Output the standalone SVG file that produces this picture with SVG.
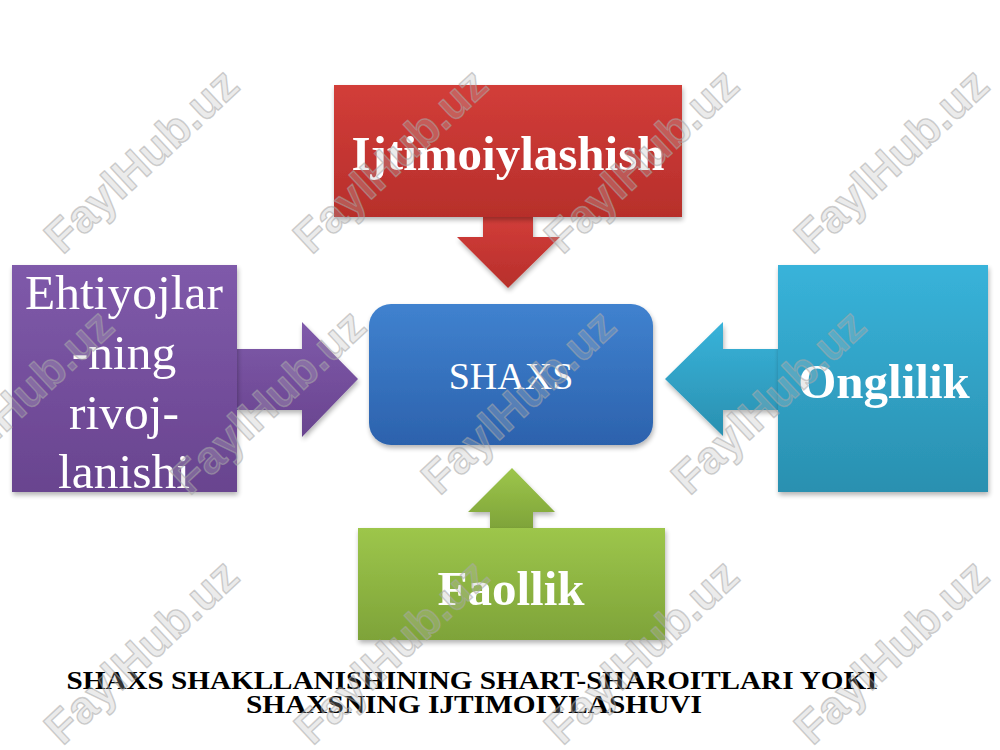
<svg xmlns="http://www.w3.org/2000/svg" width="1000" height="750" viewBox="0 0 1000 750">
<style>
.lbl{font-family:"Liberation Serif","Times New Roman",serif;fill:#ffffff;text-anchor:middle}
.b{font-weight:bold;font-size:49px}
.title{font-family:"Liberation Serif","Times New Roman",serif;font-weight:bold;font-size:26px;fill:#000;text-anchor:middle}
.wm{font-family:"Liberation Sans",Arial,sans-serif;font-weight:bold;font-size:46px;fill:#b8b8b8;fill-opacity:0.3;stroke:#a8a8a8;stroke-opacity:0.55;stroke-width:1.4;stroke-linejoin:round;text-anchor:middle}
.sh{filter:url(#shadow)}
</style>
<defs>
<filter id="shadow" x="-10%" y="-10%" width="125%" height="130%">
<feGaussianBlur in="SourceAlpha" stdDeviation="2.5"/>
<feOffset dx="1" dy="3" result="o"/>
<feComponentTransfer><feFuncA type="linear" slope="0.3"/></feComponentTransfer>
<feMerge><feMergeNode/><feMergeNode in="SourceGraphic"/></feMerge>
</filter>
<linearGradient id="gRed" x1="0" y1="0" x2="0" y2="1"><stop offset="0" stop-color="#d23d39"/><stop offset="1" stop-color="#b72f2b"/></linearGradient>
<linearGradient id="gPur" x1="0" y1="0" x2="0" y2="1"><stop offset="0" stop-color="#7f5aaa"/><stop offset="1" stop-color="#69448f"/></linearGradient>
<linearGradient id="gTeal" x1="0" y1="0" x2="0" y2="1"><stop offset="0" stop-color="#38b3da"/><stop offset="1" stop-color="#2a90b0"/></linearGradient>
<linearGradient id="gGrn" x1="0" y1="0" x2="0" y2="1"><stop offset="0" stop-color="#9dc64b"/><stop offset="1" stop-color="#7ea339"/></linearGradient>
<linearGradient id="gBlue" x1="0" y1="0" x2="0" y2="1"><stop offset="0" stop-color="#4082cf"/><stop offset="1" stop-color="#2c62ad"/></linearGradient>
</defs>
<rect width="1000" height="750" fill="#ffffff"/>

<g id="connectors">
<polygon id="arrow-top" class="sh" points="483,216 533,216 533,237 560,237 508,288 457,237 483,237" fill="url(#gRed)"/>
<polygon id="arrow-left" class="sh" points="236,349 302,349 302,322 358,379 302,437 302,410 236,410" fill="url(#gPur)"/>
<polygon id="arrow-right" class="sh" points="779,349 723,349 723,322 665,379 723,436 723,410 779,410" fill="url(#gTeal)"/>
<polygon id="arrow-bottom" class="sh" points="490,529 490,512 468,512 512,468 555,512 533,512 533,529" fill="url(#gGrn)"/>
</g>

<g id="node-ijtimoiylashish">
<rect class="sh" x="334" y="85" width="348" height="132" fill="url(#gRed)"/>
<text class="lbl b" x="508" y="170">Ijtimoiylashish</text>
</g>
<g id="node-ehtiyojlar">
<rect class="sh" x="12" y="265" width="225" height="227" fill="url(#gPur)"/>
<text class="lbl" font-size="49.5" x="124" y="309">Ehtiyojlar</text>
<text class="lbl" font-size="49.5" x="124" y="369">-ning</text>
<text class="lbl" font-size="49.5" x="124" y="429">rivoj-</text>
<text class="lbl" font-size="49.5" x="124" y="488">lanishi</text>
</g>
<g id="node-shaxs">
<rect class="sh" x="369" y="304" width="284" height="141" rx="22" fill="url(#gBlue)"/>
<text class="lbl" font-size="38" x="511" y="389">SHAXS</text>
</g>
<g id="node-onglilik">
<rect class="sh" x="778" y="265" width="210" height="227" fill="url(#gTeal)"/>
<text class="lbl b" x="884" y="398">Onglilik</text>
</g>
<g id="node-faollik">
<rect class="sh" x="358" y="528" width="307" height="112" fill="url(#gGrn)"/>
<text class="lbl b" x="511" y="605">Faollik</text>
</g>

<g id="title">
<text class="title" x="472" y="689" textLength="811" lengthAdjust="spacingAndGlyphs">SHAXS SHAKLLANISHINING SHART-SHAROITLARI YOKI</text>
<text class="title" x="474" y="713" textLength="456" lengthAdjust="spacingAndGlyphs">SHAXSNING IJTIMOIYLASHUVI</text>
</g>

<g id="watermarks">
<text class="wm" transform="translate(152,172) rotate(-43)" textLength="245" lengthAdjust="spacingAndGlyphs">FaylHub.uz</text>
<text class="wm" transform="translate(401,172) rotate(-43)" textLength="245" lengthAdjust="spacingAndGlyphs">FaylHub.uz</text>
<text class="wm" transform="translate(652,172) rotate(-43)" textLength="245" lengthAdjust="spacingAndGlyphs">FaylHub.uz</text>
<text class="wm" transform="translate(902,172) rotate(-43)" textLength="245" lengthAdjust="spacingAndGlyphs">FaylHub.uz</text>
<text class="wm" transform="translate(27,413) rotate(-43)" textLength="245" lengthAdjust="spacingAndGlyphs">FaylHub.uz</text>
<text class="wm" transform="translate(279,413) rotate(-43)" textLength="245" lengthAdjust="spacingAndGlyphs">FaylHub.uz</text>
<text class="wm" transform="translate(529,413) rotate(-43)" textLength="245" lengthAdjust="spacingAndGlyphs">FaylHub.uz</text>
<text class="wm" transform="translate(779,413) rotate(-43)" textLength="245" lengthAdjust="spacingAndGlyphs">FaylHub.uz</text>
<text class="wm" transform="translate(152,663) rotate(-43)" textLength="245" lengthAdjust="spacingAndGlyphs">FaylHub.uz</text>
<text class="wm" transform="translate(402,663) rotate(-43)" textLength="245" lengthAdjust="spacingAndGlyphs">FaylHub.uz</text>
<text class="wm" transform="translate(652,663) rotate(-43)" textLength="245" lengthAdjust="spacingAndGlyphs">FaylHub.uz</text>
<text class="wm" transform="translate(902,663) rotate(-43)" textLength="245" lengthAdjust="spacingAndGlyphs">FaylHub.uz</text>
</g>
</svg>
